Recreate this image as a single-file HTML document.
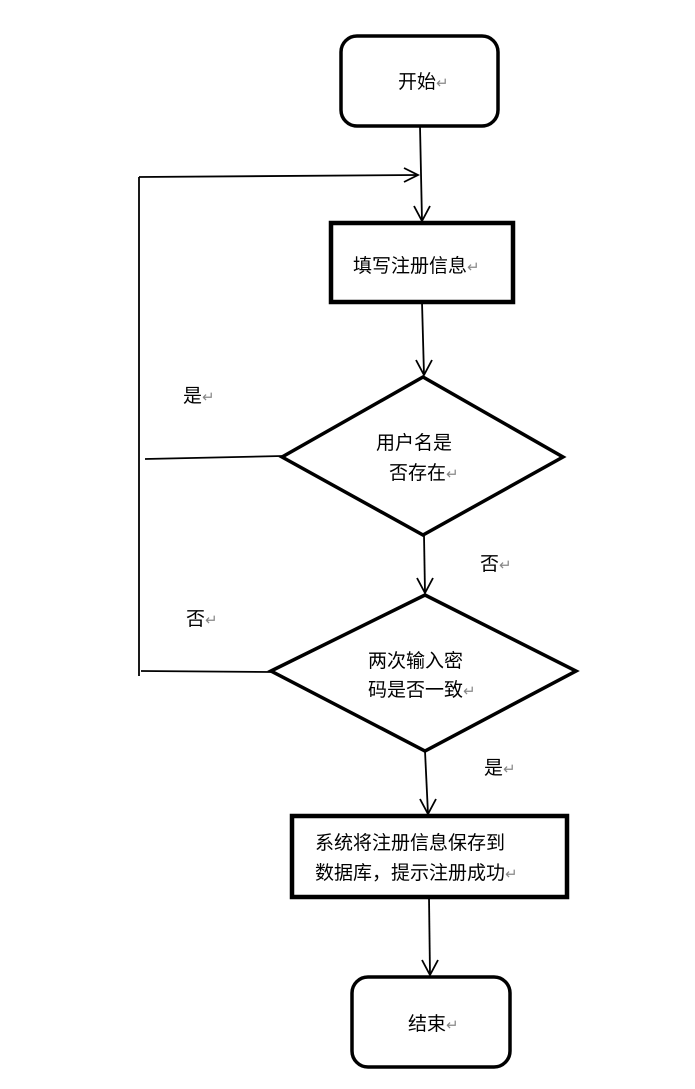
<!DOCTYPE html>
<html><head><meta charset="utf-8"><style>
html,body{margin:0;padding:0;background:#fff;}
svg{display:block;}
text{font-family:"Liberation Sans","Noto Sans CJK SC",sans-serif;font-size:19px;fill:#000;}
.r{fill:#888;font-size:15px;}
</style></head><body>
<svg width="695" height="1089" viewBox="0 0 695 1089" xmlns="http://www.w3.org/2000/svg">
<g fill="none" stroke="#000">
<rect x="341" y="36" width="157" height="90" rx="16" stroke-width="3.5"/>
<rect x="331" y="223" width="182" height="79" stroke-width="4.5"/>
<polygon points="282,457 423,377 563,457 423,535" stroke-width="3.5"/>
<polygon points="271,671 425,595 576,671 425,751" stroke-width="3.5"/>
<rect x="292" y="816" width="275" height="81" stroke-width="4.5"/>
<rect x="352" y="977" width="158" height="90" rx="16" stroke-width="3.5"/>
<g stroke-width="1.8">
<line x1="420" y1="126" x2="422" y2="221"/>
<polyline points="414,206 422,221 430,206"/>
<line x1="139" y1="177" x2="139" y2="676"/>
<line x1="139" y1="177" x2="418" y2="175"/>
<polyline points="404,168 418,175 404,182"/>
<line x1="422" y1="302" x2="424" y2="375"/>
<polyline points="416,360 424,375 432,360"/>
<line x1="145" y1="459" x2="282" y2="456"/>
<line x1="424" y1="535" x2="425" y2="593"/>
<polyline points="417,578 425,593 433,578"/>
<line x1="141" y1="671" x2="271" y2="672"/>
<line x1="425" y1="751" x2="428" y2="814"/>
<polyline points="420,799 428,814 436,799"/>
<line x1="429" y1="897" x2="430" y2="975"/>
<polyline points="422,960 430,975 438,960"/>
</g></g>
<text x="398" y="88">开始<tspan class="r">↵</tspan></text>
<text x="353" y="272">填写注册信息<tspan class="r">↵</tspan></text>
<text x="376" y="449">用户名是</text>
<text x="389" y="479">否存在<tspan class="r">↵</tspan></text>
<text x="368" y="667">两次输入密</text>
<text x="368" y="696">码是否一致<tspan class="r">↵</tspan></text>
<text x="315" y="849">系统将注册信息保存到</text>
<text x="315" y="879">数据库，提示注册成功<tspan class="r">↵</tspan></text>
<text x="408" y="1030">结束<tspan class="r">↵</tspan></text>
<text x="183" y="402">是<tspan class="r">↵</tspan></text>
<text x="480" y="570">否<tspan class="r">↵</tspan></text>
<text x="186" y="625">否<tspan class="r">↵</tspan></text>
<text x="484" y="774">是<tspan class="r">↵</tspan></text>
</svg>
</body></html>
